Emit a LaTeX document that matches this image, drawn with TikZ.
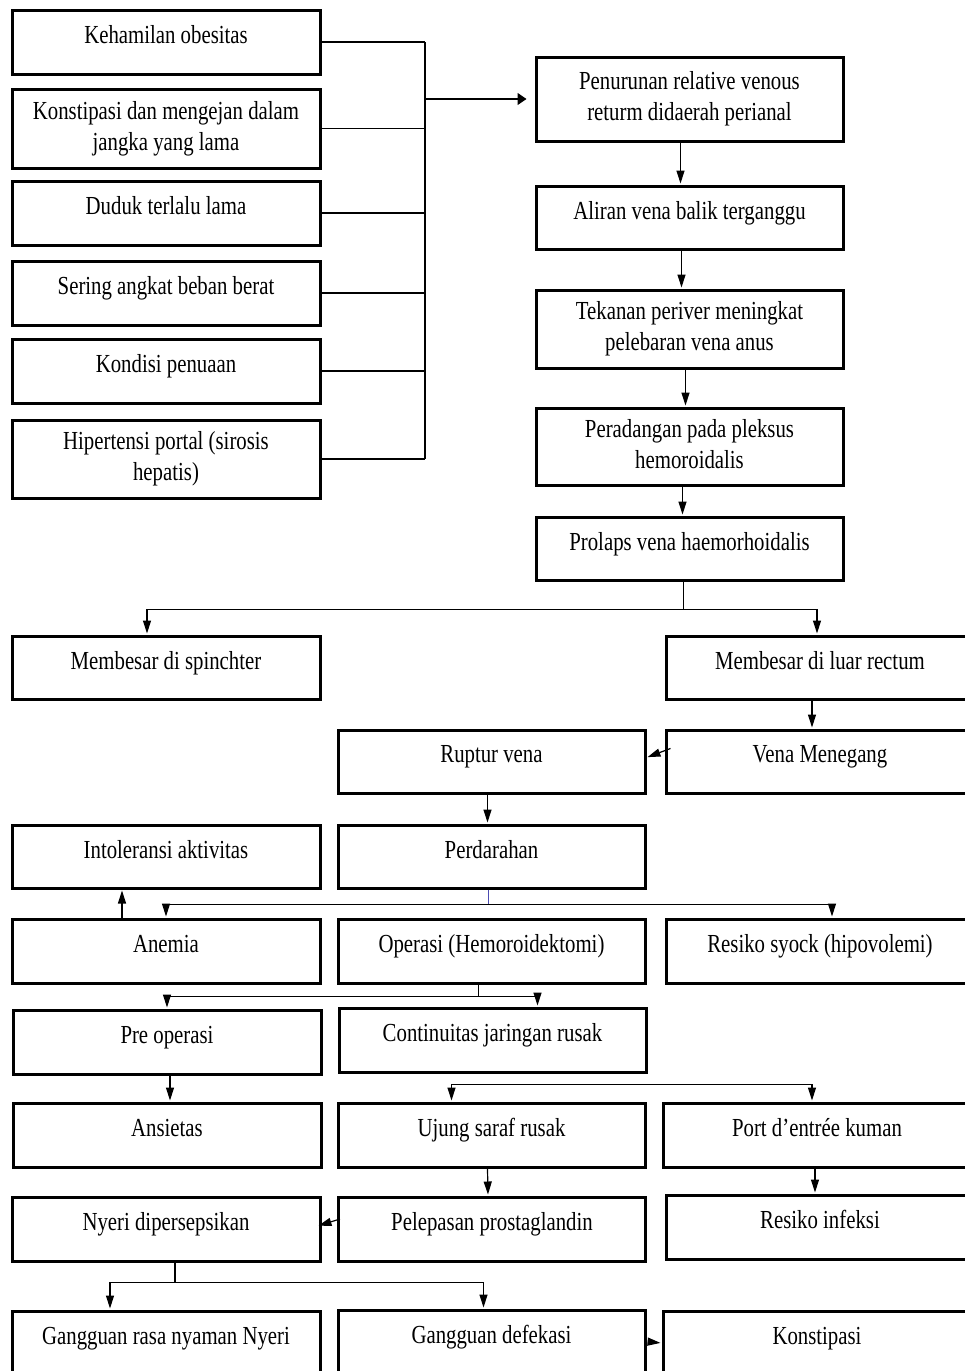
\documentclass[tikz,border=0pt]{standalone}
\usepackage{fontspec}
\setmainfont{Liberation Serif}[FakeStretch=0.8]
\usetikzlibrary{arrows.meta}

\begin{document}
\begin{tikzpicture}[x=1pt,y=-1pt,
    kotak/.style={draw,line width=3pt,minimum width=308pt,minimum height=64pt,inner sep=2pt,align=center,text depth=15pt,font=\fontsize{26}{31}\selectfont},
    dua/.style={kotak,text depth=6pt},
    garis/.style={line width=1.2pt},
    panah/.style={garis,-{Triangle[length=13pt,width=8pt]},shorten >=1pt}]
  \clip (0,0) rectangle (965,1371);
  \node[kotak] (hamil) at (166,42) {Kehamilan obesitas};
  \node[dua,minimum height=79pt] (konst) at (166,128.5) {Konstipasi dan mengejan dalam\\jangka yang lama};
  \node[kotak] (duduk) at (166,213) {Duduk terlalu lama};
  \node[kotak] (angkat) at (166,293) {Sering angkat beban berat};
  \node[kotak] (tua) at (166,371) {Kondisi penuaan};
  \node[dua,minimum height=78pt] (porta) at (166,459) {Hipertensi portal (sirosis\\hepatis)};
  \node[dua,minimum width=307pt,minimum height=84pt] (turun) at (689.5,99) {Penurunan relative venous\\returm didaerah perianal};
  \node[kotak,minimum width=307pt,minimum height=63pt] (aliran) at (689.5,217.5) {Aliran vena balik terganggu};
  \node[dua,minimum width=307pt,minimum height=78pt] (tekan) at (689.5,329) {Tekanan periver meningkat\\pelebaran vena anus};
  \node[dua,minimum width=307pt,minimum height=77pt] (radang) at (689.5,446.5) {Peradangan pada pleksus\\hemoroidalis};
  \node[kotak,minimum width=307pt,minimum height=63pt] (prolaps) at (689.5,548.5) {Prolaps vena haemorhoidalis};
  \node[kotak,minimum height=63pt] (spin) at (166,667.5) {Membesar di spinchter};
  \node[kotak,minimum height=63pt] (luar) at (820,667.5) {Membesar di luar rectum};
  \node[kotak,minimum width=307pt,minimum height=63pt] (ruptur) at (491.5,761.5) {Ruptur vena};
  \node[kotak,minimum height=63pt] (tegang) at (820,761.5) {Vena Menegang};
  \node[kotak,minimum height=63pt] (intol) at (166,856.5) {Intoleransi aktivitas};
  \node[kotak,minimum width=307pt,minimum height=63pt] (darah) at (491.5,856.5) {Perdarahan};
  \node[kotak] (anemia) at (166,951) {Anemia};
  \node[kotak,minimum width=307pt] (operasi) at (491.5,951) {Operasi (Hemoroidektomi)};
  \node[kotak] (syok) at (820,951) {Resiko syock (hipovolemi)};
  \node[kotak] (preop) at (167,1042) {Pre operasi};
  \node[kotak,minimum width=307pt] (jaringan) at (492.5,1040) {Continuitas jaringan rusak};
  \node[kotak] (cemas) at (167,1135) {Ansietas};
  \node[kotak,minimum width=307pt] (saraf) at (491.5,1135) {Ujung saraf rusak};
  \node[kotak] (kuman) at (817,1135) {Port d’entrée kuman};
  \node[kotak] (nyeri) at (166,1229) {Nyeri dipersepsikan};
  \node[kotak,minimum width=307pt] (prosta) at (492,1229) {Pelepasan prostaglandin};
  \node[kotak] (infeksi) at (820,1227) {Resiko infeksi};
  \node[kotak] (nyaman) at (166,1343) {Gangguan rasa nyaman Nyeri};
  \node[kotak,minimum width=307pt] (defek) at (491.5,1342) {Gangguan defekasi};
  \node[kotak] (sembelit) at (817,1343) {Konstipasi};
  \coordinate (rel) at (425,0);
  \foreach \n in {hamil,konst,duduk,angkat,tua,porta}
    \draw[garis] (\n.east) -- (\n.east -| rel);
  \draw[garis] (hamil.east -| rel) -- (porta.east -| rel);
  \draw[garis,-{Triangle[length=9pt,width=12pt]}] (turun.west -| rel) -- ([xshift=-8]turun.west);
  \draw[panah] ([xshift=-9]turun.south) -- ([xshift=-9]aliran.north);
  \draw[panah] ([xshift=-8]aliran.south) -- ([xshift=-8]tekan.north);
  \draw[panah] ([xshift=-4]tekan.south) -- ([xshift=-4]radang.north);
  \draw[panah] ([xshift=-7]radang.south) -- ([xshift=-7]prolaps.north);
  \draw[garis] ([xshift=-6]prolaps.south) -- ++(0,28) coordinate (cab1);
  \draw[panah] (cab1) -| ([xshift=-19]spin.north);
  \draw[panah] (cab1) -| ([xshift=-3]luar.north);
  \draw[panah] ([xshift=-8]luar.south) -- ([xshift=-8]tegang.north);
  \draw[panah] ([xshift=6,yshift=13]tegang.west) -- ([yshift=4]ruptur.east);
  \draw[panah] ([xshift=-4]ruptur.south) -- ([xshift=-4]darah.north);
  \draw[line width=.5pt,blue!40!gray] ([xshift=-3]darah.south) -- ++(0,15) coordinate (cab2);
  \draw[panah] (cab2) -| (anemia.north);
  \draw[panah] (cab2) -| ([xshift=12]syok.north);
  \draw[panah] ([xshift=-44]anemia.north) -- ([xshift=-44]intol.south);
  \draw[garis] ([xshift=-13]operasi.south) -- ++(0,12) coordinate (cab3);
  \draw[panah] (cab3) -| (preop.north);
  \draw[panah] (cab3) -| ([xshift=45]jaringan.north);
  \draw[panah] ([xshift=3]preop.south) -- ([xshift=3]cemas.north);
  \coordinate (cab4) at ([yshift=-11]jaringan.south);
  \draw[panah] (cab4) -| ([xshift=-40]saraf.north);
  \draw[panah] (cab4) -| ([xshift=-5]kuman.north);
  \draw[panah] ([xshift=-4]saraf.south) -- ([xshift=-4]prosta.north);
  \draw[panah] ([xshift=-2]kuman.south) -- ([xshift=-5]infeksi.north);
  \draw[panah] ([xshift=3,yshift=10]prosta.west) -- ([xshift=-4,yshift=3]nyeri.east);
  \draw[garis] ([xshift=9]nyeri.south) -- ++(0,20) coordinate (cab5);
  \draw[panah] (cab5) -| ([xshift=-56]nyaman.north);
  \draw[panah] (cab5) -| ([xshift=-8]defek.north);
  \draw[panah] ([xshift=5]defek.east) -- (sembelit.west);
\end{tikzpicture}
\end{document}
